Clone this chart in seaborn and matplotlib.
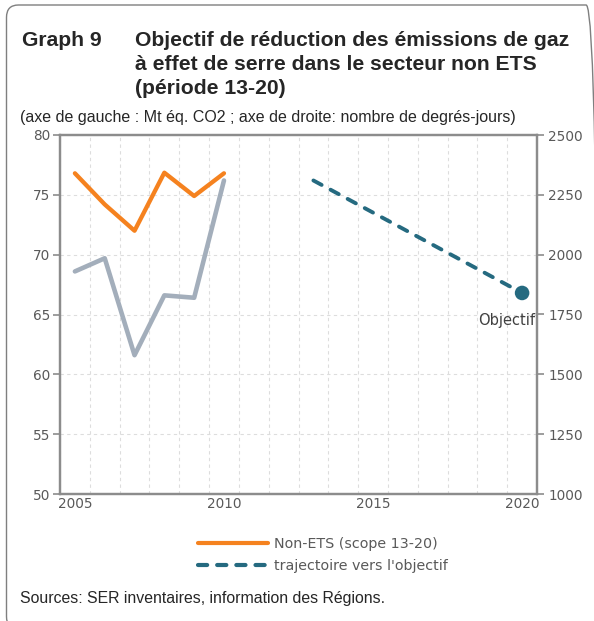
# Graph 9 - Objectif de réduction des émissions de gaz à effet de serre (non ETS)

import numpy as np
import matplotlib
matplotlib.use("Agg")
import matplotlib.pyplot as plt
from matplotlib.lines import Line2D
from matplotlib.patches import FancyBboxPatch
import seaborn as sns

# Data

years_hist = [2005, 2006, 2007, 2008, 2009, 2010]
non_ets = [76.8, 74.2, 72.0, 76.85, 74.9, 76.8]          # Mt éq. CO2 (left axis)
degree_days = [1930, 1985, 1580, 1830, 1820, 2310]        # degrés-jours (right axis)

years_target = [2013, 2020]
trajectory = [76.2, 66.8]

label_years = [2005, 2010, 2015, 2020]
left_ticks = [50, 55, 60, 65, 70, 75, 80]
right_ticks = [1000, 1250, 1500, 1750, 2000, 2250, 2500]

ORANGE = "#F5821F"
GREY_LINE = "#A3AEBB"
TEAL = "#256A80"
SPINE = "#8C8C8C"
TXT = "#595959"

sns.set_style("white")
plt.rcParams["font.family"] = ["DejaVu Sans"]

fig = plt.figure(figsize=(5.94, 6.21), dpi=100)
W, H = 594, 621

ax = fig.add_axes([60 / W, 1 - 494 / H, (537 - 60) / W, (494 - 135) / H])
ax2 = ax.twinx()

# Lines
sns.lineplot(x=years_hist, y=non_ets, ax=ax, color=ORANGE, lw=3.1, zorder=4)
sns.lineplot(x=years_target, y=trajectory, ax=ax, color=TEAL, lw=2.8,
             linestyle=(0, (2.4, 2.6)), dash_capstyle="round", zorder=4)
sns.scatterplot(x=[years_target[-1]], y=[trajectory[-1]], ax=ax, color=TEAL,
                s=110, edgecolor="none", zorder=5)
sns.lineplot(x=years_hist, y=degree_days, ax=ax2, color=GREY_LINE, lw=3.3, zorder=3)

ax.annotate("Objectif", xy=(2020.5, trajectory[-1]), xytext=(-1, -20),
            textcoords="offset points", ha="right", va="center",
            fontsize=10.5, color="#404040", annotation_clip=False)

# Axes limits & ticks
ax.set_xlim(2004.5, 2020.5)
ax.set_ylim(50, 80)
ax2.set_ylim(1000, 2500)

ax.set_xticks(np.arange(2004.5, 2021, 1))
ax.set_xticklabels([])
ax.set_xticks(label_years, minor=True)
ax.set_xticklabels([str(y) for y in label_years], minor=True)
ax.tick_params(axis="x", which="major", length=4, width=1.2, color=SPINE, direction="out")
ax.tick_params(axis="x", which="minor", length=0, pad=2, labelsize=9.8, labelcolor=TXT)

ax.set_yticks(left_ticks)
ax.tick_params(axis="y", length=5, width=1.2, color=SPINE, pad=2,
               labelsize=9.8, labelcolor=TXT, left=True)
ax2.set_yticks(right_ticks)
ax2.tick_params(axis="y", length=5, width=1.2, color=SPINE, pad=3,
                labelsize=9.8, labelcolor=TXT, right=True)

ax.grid(True, which="major", color="#DDDDDD", linestyle=(0, (3, 3)), linewidth=0.8)
ax2.grid(False)
ax.set_axisbelow(True)

for a in (ax, ax2):
    for s in a.spines.values():
        s.set_color(SPINE)
        s.set_linewidth(1.6)
ax.set_xlabel("")
ax.set_ylabel("")
ax2.set_ylabel("")

# Titles
fig.text(22 / W, 1 - 46 / H, "Graph 9", fontsize=15.2, fontweight="bold",
         family="Liberation Sans", va="baseline")
title_lines = ["Objectif de réduction des émissions de gaz",
               "à effet de serre dans le secteur non ETS",
               "(période 13-20)"]
for i, line in enumerate(title_lines):
    fig.text(135 / W, 1 - (46 + 24 * i) / H, line, fontsize=15.2, fontweight="bold",
             family="Liberation Sans", va="baseline")

fig.text(20 / W, 1 - 122 / H,
         "(axe de gauche : Mt éq. CO2 ; axe de droite: nombre de degrés-jours)",
         fontsize=11.5, family="Liberation Sans", va="baseline")

fig.text(20 / W, 1 - 603 / H, "Sources: SER inventaires, information des Régions.",
         fontsize=11.4, family="Liberation Sans", va="baseline")

# Legend
handles = [
    Line2D([], [], color=ORANGE, lw=3.0, solid_capstyle="round"),
    Line2D([], [], color=TEAL, lw=3.0, linestyle=(0, (2.2, 2.4)), dash_capstyle="round"),
]
labels = ["Non-ETS (scope 13-20)", "trajectoire vers l'objectif"]
leg = fig.legend(handles, labels, loc="center left",
                 bbox_to_anchor=(198 / W, 1 - 555 / H), frameon=False,
                 fontsize=10.3, handlelength=4.9, handletextpad=0.4,
                 labelspacing=0.55, borderpad=0, borderaxespad=0)
for t in leg.get_texts():
    t.set_color(TXT)

# Rounded frame around the chart
frame = FancyBboxPatch((6.5 / W, -8 / H), (598 - 6.5) / W, (616 + 8) / H,
                       boxstyle="round,pad=0,rounding_size=0.02",
                       transform=fig.transFigure, facecolor="none",
                       edgecolor="#7F7F7F", linewidth=1.0, clip_on=False)
fig.patches.append(frame)

fig.savefig("out.png", dpi=100)
